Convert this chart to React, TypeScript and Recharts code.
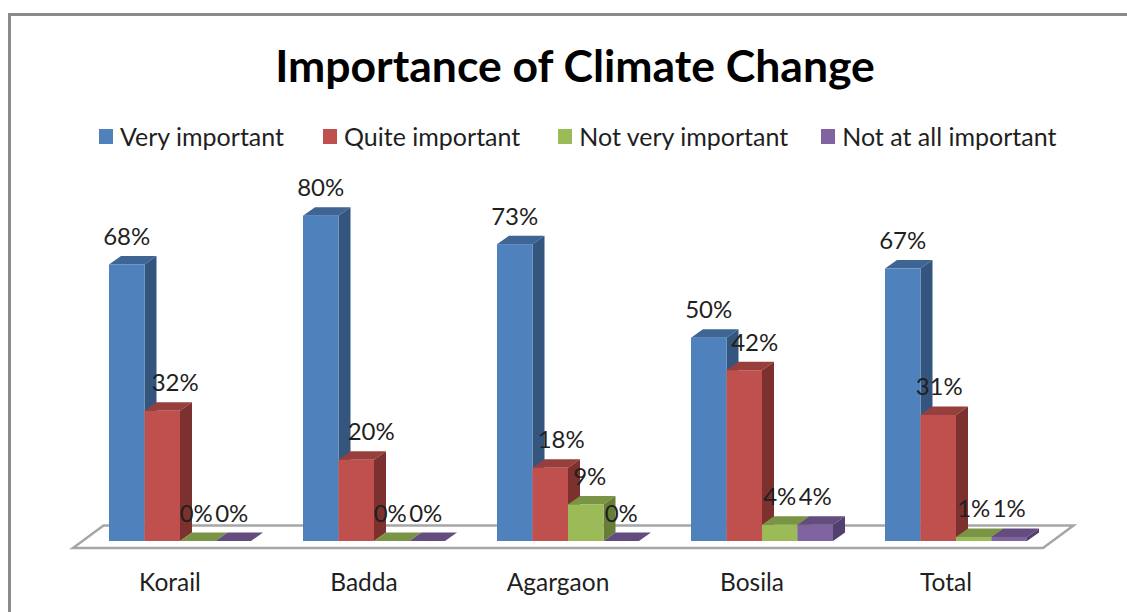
import React from "react";
import { BarChart, Bar, XAxis, YAxis, Legend, LabelList, ReferenceArea } from "recharts";

const categories = ["Korail", "Badda", "Agargaon", "Bosila", "Total"];
const veryImportant = [68, 80, 73, 50, 67];
const quiteImportant = [32, 20, 18, 42, 31];
const notVeryImportant = [0, 0, 9, 4, 1];
const notAtAllImportant = [0, 0, 0, 4, 1];

const rows = categories.map((name, i) => ({
  name,
  veryImportant: veryImportant[i],
  quiteImportant: quiteImportant[i],
  notVeryImportant: notVeryImportant[i],
  notAtAllImportant: notAtAllImportant[i],
}));

const FONT = "Lato, 'Open Sans', sans-serif";
const TEXT = "#1f1f1f";
const DEPTH_X = 12;
const DEPTH_Y = 8.5;

// Sideways label shifts, per series and category, that keep labels clear of taller neighbours.
const redLabelShift = [13, 15, 11, 10.5, 1];
const greenLabelShift = [-1.5, -1.5, 4, 0, 0];
const purpleLabelShift = [-1.5, -1.5, 0, 0, 0];
const blueLabelShift = [0, 0, 0, 0, 0];

// Space after each legend entry.
const legendGaps = [39, 38, 33, 0];

const seriesDefs = [
  { key: "veryImportant", label: "Very important", front: "#4f81bd", top: "#3e6594", side: "#33557e", shift: blueLabelShift },
  { key: "quiteImportant", label: "Quite important", front: "#c0504d", top: "#973f3c", side: "#7c312f", shift: redLabelShift },
  { key: "notVeryImportant", label: "Not very important", front: "#9bbb59", top: "#7a9446", side: "#677e39", shift: greenLabelShift },
  { key: "notAtAllImportant", label: "Not at all important", front: "#8064a2", top: "#634d7f", side: "#533f6d", shift: purpleLabelShift },
];

// Extruded column: front face, top face and right side face.
function Column3D(props: any) {
  const { x, y, width, height, front, top, side } = props;
  const r = x + width;
  const b = y + height;
  return (
    <g>
      <polygon
        points={`${x},${y} ${x + DEPTH_X},${y - DEPTH_Y} ${r + DEPTH_X},${y - DEPTH_Y} ${r},${y}`}
        fill={top}
      />
      <polygon
        points={`${r},${y} ${r + DEPTH_X},${y - DEPTH_Y} ${r + DEPTH_X},${b - DEPTH_Y} ${r},${b}`}
        fill={side}
      />
      <rect x={x} y={y} width={width} height={height} fill={front} />
    </g>
  );
}

// Perspective floor under the columns.
function Floor(props: any) {
  const { x, y, width, height } = props;
  const fx = x - 10;
  const fy = y + height + 7;
  const sx = 30.5;
  const sy = 22.5;
  return (
    <polygon
      points={`${fx},${fy} ${fx + width},${fy} ${fx + width + sx},${fy - sy} ${fx + sx},${fy - sy}`}
      fill="#ffffff"
      stroke="#a6a6a6"
      strokeWidth={2.5}
    />
  );
}

function makeValueLabel(shift: number[]) {
  return function ValueLabel(props: any) {
    const { x, y, width, value, index } = props;
    return (
      <text
        x={x + width / 2 + shift[index]}
        y={y - 19.5}
        textAnchor="middle"
        fontFamily={FONT}
        fontSize={24}
        fill={TEXT}
      >
        {`${value}%`}
      </text>
    );
  };
}

function CategoryTick(props: any) {
  const { x, y, payload } = props;
  return (
    <text x={x - 10} y={y + 42} textAnchor="middle" fontFamily={FONT} fontSize={24.5} fill={TEXT}>
      {payload.value}
    </text>
  );
}

function LegendRow(props: any) {
  const { payload } = props;
  return (
    <div style={{ display: "flex", fontFamily: FONT, fontSize: 25, color: TEXT, lineHeight: "28px", whiteSpace: "nowrap" }}>
      {payload.map((entry: any, i: number) => (
        <div key={entry.value} style={{ display: "flex", alignItems: "center", marginRight: legendGaps[i] }}>
          <span style={{ width: 14, height: 15, background: entry.color, marginRight: 7, display: "inline-block" }} />
          <span>{entry.value}</span>
        </div>
      ))}
    </div>
  );
}

export default function App() {
  return (
    <div style={{ position: "absolute", left: 0, top: 0, width: 1127, height: 612, overflow: "hidden", background: "#ffffff" }}>
      <div style={{ position: "absolute", left: 8, top: 13, width: 1119, height: 599, borderTop: "3px solid #8a8a8a", borderLeft: "3px solid #8a8a8a", boxSizing: "border-box" }} />
      <div
        style={{
          position: "absolute",
          left: 0,
          top: 35,
          width: 1150,
          textAlign: "center",
          fontFamily: FONT,
          fontWeight: 700,
          fontSize: 44.5,
          lineHeight: "60px",
          color: "#000000",
        }}
      >
        Importance of Climate Change
      </div>
      <BarChart
        width={1127}
        height={612}
        data={rows}
        margin={{ top: 175, right: 74, bottom: 0, left: 83 }}
        barCategoryGap={26}
        barGap={0}
        style={{ position: "absolute", left: 0, top: 0 }}
      >
        <XAxis dataKey="name" axisLine={false} tickLine={false} tick={CategoryTick} height={71} />
        <YAxis hide domain={[0, 90]} width={0} />
        <ReferenceArea y1={0} y2={90} shape={Floor} />
        <Legend
          content={LegendRow}
          verticalAlign="middle"
          align="center"
          itemSorter={null}
          wrapperStyle={{ position: "absolute", left: 99, top: 122, width: "auto" }}
        />
        {seriesDefs.map((s) => (
          <Bar
            key={s.key}
            dataKey={s.key}
            name={s.label}
            fill={s.front}
            barSize={35.5}
            isAnimationActive={false}
            shape={(p: any) => <Column3D {...p} front={s.front} top={s.top} side={s.side} />}
          >
            <LabelList dataKey={s.key} content={makeValueLabel(s.shift)} />
          </Bar>
        ))}
      </BarChart>
    </div>
  );
}
